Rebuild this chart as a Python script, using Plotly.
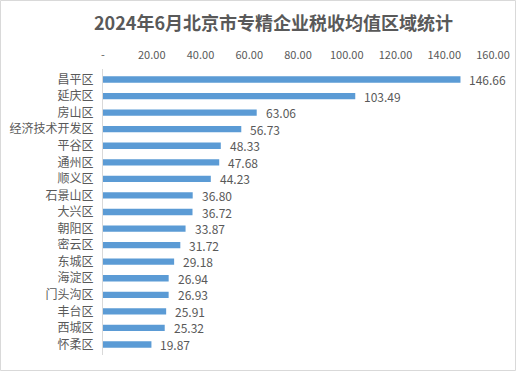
import plotly.graph_objects as go

categories = ["昌平区", "延庆区", "房山区", "经济技术开发区", "平谷区", "通州区", "顺义区",
              "石景山区", "大兴区", "朝阳区", "密云区", "东城区", "海淀区", "门头沟区",
              "丰台区", "西城区", "怀柔区"]
values = [146.66, 103.49, 63.06, 56.73, 48.33, 47.68, 44.23, 36.80, 36.72, 33.87,
          31.72, 29.18, 26.94, 26.93, 25.91, 25.32, 19.87]
tick_vals = [0, 20, 40, 60, 80, 100, 120, 140, 160]
tick_text = ["-", "20.00", "40.00", "60.00", "80.00", "100.00", "120.00", "140.00", "160.00"]
title_text = "2024年6月北京市专精企业税收均值区域统计"

W, H = 516, 371
ml, mr, mt, mb = 103, 23, 69, 16
font = "Noto Sans CJK SC, Noto Sans, sans-serif"
grey = "#595959"
pw = W - ml - mr
ph = H - mt - mb

fig = go.Figure(go.Bar(
    x=values, y=categories, orientation="h",
    marker=dict(color="#5B9BD5", line=dict(width=0)),
    width=0.38, hoverinfo="skip",
))

annotations = []
for c, v in zip(categories, values):
    annotations.append(dict(x=v, y=c, xref="x", yref="y", text=f"{v:.2f}",
                            xanchor="left", yanchor="middle", xshift=7, yshift=0,
                            showarrow=False, font=dict(family=font, size=12, color=grey)))
annotations.append(dict(x=(273.5 - ml) / pw, y=(H - mb - 22) / ph, xref="paper", yref="paper",
                        text=f"<b>{title_text}</b>", showarrow=False,
                        xanchor="center", yanchor="middle",
                        font=dict(family=font, size=18, color=grey)))

fig.update_layout(
    width=W, height=H,
    margin=dict(l=ml, r=mr, t=mt, b=mb, pad=0, autoexpand=False),
    paper_bgcolor="white", plot_bgcolor="white",
    showlegend=False,
    font=dict(family=font, color=grey),
    xaxis=dict(range=[0, 160], side="top", tickvals=tick_vals, ticktext=tick_text,
               showgrid=False, zeroline=False, showline=False, ticks="",
               automargin=False, ticklabelstandoff=7,
               tickfont=dict(family=font, size=11, color=grey), fixedrange=True),
    yaxis=dict(autorange="reversed", showgrid=False, zeroline=False,
               showline=True, linecolor="#D9D9D9", linewidth=1, ticks="",
               ticklabelstandoff=6, automargin=False,
               tickfont=dict(family=font, size=12, color=grey), fixedrange=True),
    annotations=annotations,
    shapes=[dict(type="rect", xref="paper", yref="paper",
                 x0=-(ml - 0.5) / pw, x1=1 + (mr - 0.5) / pw,
                 y0=-(mb - 0.5) / ph, y1=1 + (mt - 0.5) / ph,
                 line=dict(color="#D9D9D9", width=1), layer="below")],
)
fig.write_html("out.html", config={"displayModeBar": False},
               post_script="document.body.style.margin='0';document.body.style.overflow='hidden';")
